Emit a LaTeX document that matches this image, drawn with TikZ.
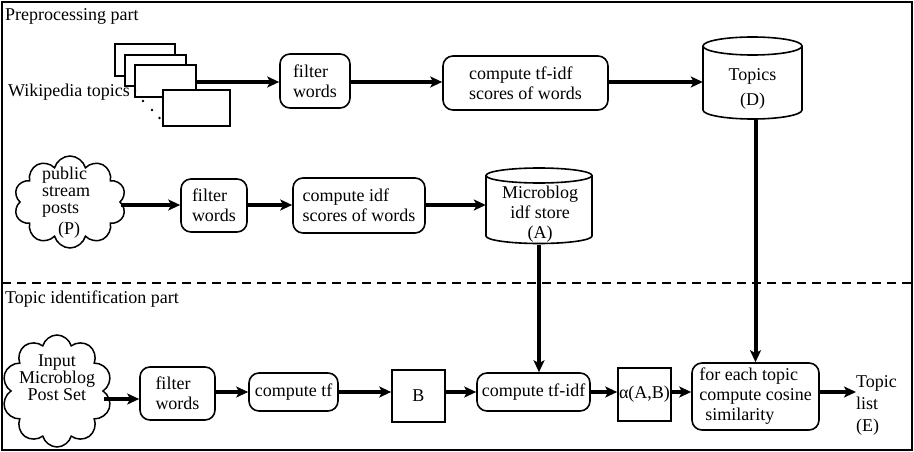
\documentclass[tikz,border=0pt]{standalone}
\usepackage{fontspec}
\setmainfont{Liberation Serif}
\usetikzlibrary{arrows.meta,shapes.symbols}
\begin{document}
\begin{tikzpicture}[x=1pt,y=-1pt,
  font=\fontsize{18}{20}\selectfont,
  box/.style={draw, line width=1.6pt, rounded corners=10pt, align=left, inner sep=0pt},
  sq/.style={draw, line width=1.6pt, inner sep=0pt},
  page/.style={draw, line width=1.6pt, fill=white, inner sep=0pt},
  arr/.style={line width=4pt, -{Stealth[length=12pt,width=11pt,inset=3pt]}},
  cyl/.style={line width=1.6pt},
  lbl/.style={inner sep=0pt},
  cloudbox/.style={cloud, cloud puffs=10, cloud ignores aspect, draw, line width=1.5pt, inner sep=0pt}
]
\useasboundingbox (0,0) rectangle (914,452);
% frame and separator
\draw[line width=2pt] (2,2) rectangle (912,450);
\draw[line width=2pt, dash pattern=on 9pt off 6pt] (2,283) -- (912,283);
\node[lbl, anchor=base west] (pre) at (5,21) {Preprocessing part};
\node[lbl, anchor=base west] (tip) at (5,303) {Topic identification part};

% row coordinates
\coordinate (row1) at (0,82);
\coordinate (row2) at (0,205);
\coordinate (row3a) at (0,399);
\coordinate (row3) at (0,392);

% Wikipedia pages
\node[page, minimum width=60pt, minimum height=32pt] (p1) at (145,60) {};
\node[page, minimum width=61pt, minimum height=31pt] (p2) at (155.5,70.5) {};
\node[page, minimum width=61pt, minimum height=32pt] (p3) at (165.5,81) {};
\node[page, minimum width=67pt, minimum height=36pt] (p4) at (196.5,108) {};
\foreach \px/\py in {135/91,143/101,152/110,159.5/118}
  \fill (\px,\py) circle[radius=1.3pt];
\node[lbl, anchor=base east] (wiki) at (130,97) {Wikipedia topics};

\node[box, minimum width=70pt, minimum height=54pt] (f1) at (315,81) {filter\\words};
\node[box, minimum width=165pt, minimum height=54pt] (t1) at (525.5,83) {compute tf-idf\\scores of words};

% Topics cylinder
\node[lbl, minimum width=99pt, minimum height=82pt] (topics) at (752.5,78) {};
\draw[cyl] (703,46) -- (703,110) arc[start angle=180,end angle=360,x radius=49.5pt,y radius=9pt] -- (802,46);
\draw[cyl] (752.5,46) ellipse [x radius=49.5pt, y radius=9pt];
\node[lbl, align=center] (topicstxt) at (752.5,89) {Topics\\[5pt](D)};

% row 2
\node[cloudbox, minimum width=112pt, minimum height=92pt] (c1) at (70,202) {};
\node[lbl, align=left, anchor=north west, font=\fontsize{18}{17}\selectfont] (c1t) at (42,167) {public\\stream\\posts\\[4pt]\hspace*{16pt}(P)};
\node[box, minimum width=66pt, minimum height=53pt] (f2) at (214,205.5) {filter\\words};
\node[box, minimum width=132pt, minimum height=55pt] (idf) at (359,205.5) {compute idf\\scores of words};

% Microblog cylinder
\node[lbl, minimum width=106pt, minimum height=78pt] (mb) at (539,206) {};
\draw[cyl] (486,175.5) -- (486,236) arc[start angle=180,end angle=360,x radius=53pt,y radius=7.5pt] -- (592,175.5);
\draw[cyl] (539,175.5) ellipse [x radius=53pt, y radius=7.5pt];
\node[lbl, align=center] (mbt) at (540,214) {Microblog\\idf store\\(A)};

% row 3
\node[cloudbox, minimum width=110pt, minimum height=112pt] (c2) at (57,391) {};
\node[lbl, align=center, font=\fontsize{18}{17}\selectfont] (c2t) at (57,378) {Input\\Microblog\\Post Set};
\node[box, minimum width=75pt, minimum height=53pt] (f3) at (177.5,393.5) {filter\\words};
\node[box, minimum width=89pt, minimum height=38pt] (tf) at (293.5,392) {compute tf};
\node[sq, minimum width=53pt, minimum height=52pt] (B) at (418.5,396) {B};
\node[box, minimum width=113pt, minimum height=38pt] (t2) at (533.5,392) {compute tf-idf};
\node[sq, minimum width=53pt, minimum height=53pt] (al) at (644.5,394.5) {α(A,B)};
\node[box, minimum width=127pt, minimum height=67pt] (cos) at (755.5,396.5) {for each topic\\compute cosine\\\hspace*{6pt}similarity};
\node[lbl, align=left, anchor=west] (tl) at (856,405) {Topic\\[2pt]list\\[2pt](E)};

% connectors
\draw[arr] (p3.east |- row1) -- (f1.west |- row1);
\draw[arr] (f1.east |- row1) -- (t1.west |- row1);
\draw[arr] (t1.east |- row1) -- (topics.west |- row1);
\draw[arr] (c1.east |- row2) -- (f2.west |- row2);
\draw[arr] (f2.east |- row2) -- (idf.west |- row2);
\draw[arr] (idf.east |- row2) -- (mb.west |- row2);
\draw[arr] (c2.east |- row3a) -- (f3.west |- row3a);
\draw[arr] (f3.east |- row3) -- (tf.west |- row3);
\draw[arr] (tf.east |- row3) -- (B.west |- row3);
\draw[arr] (B.east |- row3) -- (t2.west |- row3);
\draw[arr] (t2.east |- row3) -- (al.west |- row3);
\draw[arr] (al.east |- row3) -- (cos.west |- row3);
\draw[arr] (cos.east |- row3) -- (tl.west |- row3);
\draw[arr] (mb.south) -- (t2.north -| mb.south);
\draw[arr] (topics.south -| cos.north) -- (cos.north);
\end{tikzpicture}
\end{document}
